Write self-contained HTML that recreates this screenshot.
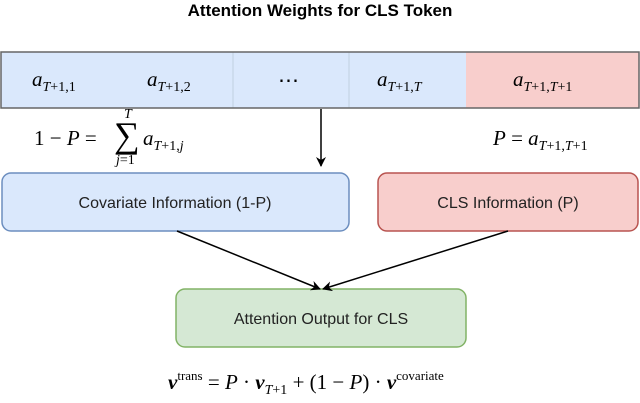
<!DOCTYPE html>
<html><head><style>
body{margin:0;width:640px;height:403px;background:#fff;position:relative;overflow:hidden;font-family:"Liberation Sans",sans-serif}
.m{position:absolute;font-family:"Liberation Serif",serif;font-size:21px;white-space:nowrap}
.i{font-style:italic}
sub{font-size:14px;vertical-align:-5px}
sup{font-size:13px;vertical-align:9px}
</style></head><body>
<svg width="640" height="403" style="position:absolute;left:0;top:0">
<defs><marker id="a" markerWidth="10" markerHeight="10" refX="9" refY="5" orient="auto" markerUnits="userSpaceOnUse"><path d="M0,0 L10,5 L0,10 L3,5 z" fill="#000"/></marker></defs>
<text x="320" y="16" text-anchor="middle" font-family="Liberation Sans" font-weight="bold" font-size="17">Attention Weights for CLS Token</text>
<rect x="1" y="52" width="465" height="56" fill="#dae8fc"/>
<rect x="466" y="52" width="173" height="56" fill="#f8cecc"/>
<line x1="233" y1="52" x2="233" y2="108" stroke="#c0cfe0"/>
<line x1="349" y1="52" x2="349" y2="108" stroke="#c0cfe0"/>
<rect x="1" y="52" width="638" height="56" fill="none" stroke="#666" stroke-width="1.5"/>
<line x1="321" y1="109" x2="321" y2="166" stroke="#000" stroke-width="1.5" marker-end="url(#a)"/>
<rect x="2" y="173" width="347" height="58" rx="9" fill="#dae8fc" stroke="#6c8ebf" stroke-width="1.5"/>
<rect x="378" y="173" width="260" height="58" rx="9" fill="#f8cecc" stroke="#b85450" stroke-width="1.5"/>
<rect x="176" y="289" width="290" height="58" rx="9" fill="#d5e8d4" stroke="#82b366" stroke-width="1.5"/>
<text x="175" y="208" text-anchor="middle" font-size="16" fill="#222">Covariate Information (1-P)</text>
<text x="508" y="208" text-anchor="middle" font-size="16" fill="#222">CLS Information (P)</text>
<text x="321" y="324" text-anchor="middle" font-size="16" fill="#222">Attention Output for CLS</text>
<line x1="177" y1="231" x2="320" y2="289" stroke="#000" stroke-width="1.5" marker-end="url(#a)"/>
<line x1="508" y1="231" x2="323" y2="289" stroke="#000" stroke-width="1.5" marker-end="url(#a)"/>
</svg>
<div class="m" style="left:32px;top:67px"><span class="i">a</span><sub><span class="i">T</span>+1,1</sub></div>
<div class="m" style="left:147px;top:67px"><span class="i">a</span><sub><span class="i">T</span>+1,2</sub></div>
<div class="m" style="left:278px;top:68px">⋯</div>
<div class="m" style="left:377px;top:67px"><span class="i">a</span><sub><span class="i">T</span>+1,<span class="i">T</span></sub></div>
<div class="m" style="left:513px;top:67px"><span class="i">a</span><sub><span class="i">T</span>+1,<span class="i">T</span>+1</sub></div>
<div class="m" style="left:34px;top:126px">1 − <span class="i">P</span> =</div>
<div class="m" style="left:114px;top:114px;font-size:36px">∑</div>
<div class="m" style="left:124px;top:107px;font-size:14px" ><span class="i">T</span></div>
<div class="m" style="left:116px;top:153px;font-size:14px"><span class="i">j</span>=1</div>
<div class="m" style="left:143px;top:126px"><span class="i">a</span><sub><span class="i">T</span>+1,<span class="i">j</span></sub></div>
<div class="m" style="left:493px;top:126px"><span class="i">P</span> = <span class="i">a</span><sub><span class="i">T</span>+1,<span class="i">T</span>+1</sub></div>
<div class="m" style="left:168px;top:368px"><b class="i">v</b><sup>trans</sup> = <span class="i">P</span> · <b class="i">v</b><sub><span class="i">T</span>+1</sub> + (1 − <span class="i">P</span>) · <b class="i">v</b><sup>covariate</sup></div>
</body></html>
